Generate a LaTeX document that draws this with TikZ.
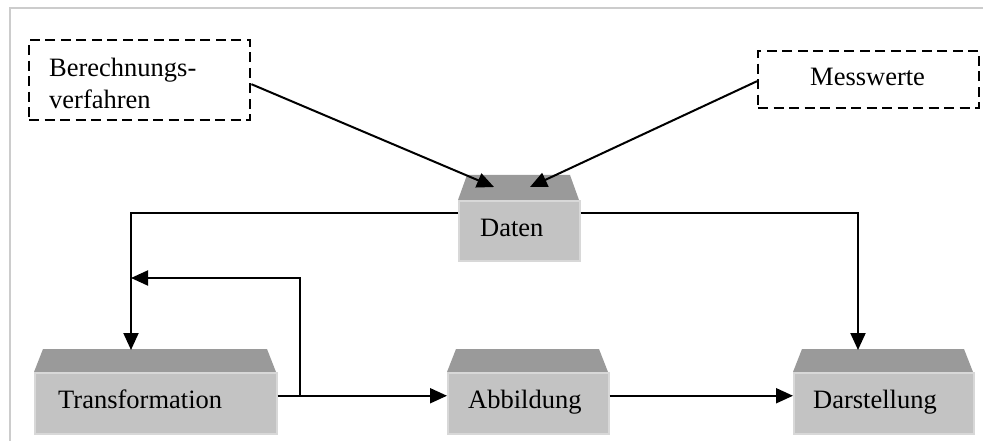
\documentclass[tikz,border=0pt]{standalone}
\usepackage{fontspec}
\setmainfont{Liberation Serif}
\usetikzlibrary{arrows.meta}
\definecolor{topgray}{HTML}{9A9A9A}
\definecolor{frontgray}{HTML}{C3C3C3}
\definecolor{edgegray}{HTML}{D8D8D8}
\definecolor{framegray}{HTML}{CCCCCC}
\tikzset{
  txt/.style={font=\fontsize{26.5}{32}\selectfont, inner sep=0pt},
  dbox/.style={draw, dash pattern=on 10pt off 5.5pt, line width=2.4pt, inner sep=0pt, anchor=north west},
  frontface/.style={fill=frontgray, draw=edgegray, line width=1.5pt, inner sep=0pt, anchor=north west},
  topface/.style={fill=topgray},
  conn/.style={line width=2pt},
  arr/.style={conn, -{Triangle[length=17pt,width=15pt]}},
}
% name, x1, x2, y of top face, y of front top, y of bottom
\newcommand{\bevelbox}[6]{%
  \fill[topface] ({#2+9},#4) -- ({#3-9},#4) -- (#3,#5) -- (#2,#5) -- cycle;
  \node[frontface, minimum width={(#3-#2)*1pt}, minimum height={(#6-#5)*1pt}] (#1) at (#2,#5) {};
}
\begin{document}
\begin{tikzpicture}[x=1pt,y=-1pt]
\useasboundingbox (0,0) rectangle (983,441);
\draw[framegray, line width=1.5pt] (10,441) -- (10,8) -- (983,8);

% dashed source boxes
\node[dbox, minimum width=221pt, minimum height=80pt] (ber) at (28,39) {};
\node[txt, anchor=west, align=left] (bert) at (49,83) {Berechnungs-\\verfahren};
\node[dbox, minimum width=221pt, minimum height=57pt] (mess) at (757,50) {};
\node[txt, anchor=base west] (messt) at (810,86) {Messwerte};

% bevelled boxes
\bevelbox{daten}{458}{579}{175}{200}{260}
\node[txt, anchor=base west] (datent) at (480,236) {Daten};
\bevelbox{trans}{34}{276}{349}{372}{433}
\node[txt, anchor=base west] (transt) at (58,408) {Transformation};
\bevelbox{abb}{447}{608}{349}{372}{433}
\node[txt, anchor=base west] (abbt) at (468,408) {Abbildung};
\bevelbox{dar}{793}{973}{349}{372}{433}
\node[txt, anchor=base west] (dart) at (813,408) {Darstellung};

% connector end points
\coordinate (dIn1) at (494,187);
\coordinate (dIn2) at (530,187);
\coordinate (tIn) at (131,350);
\coordinate (dsIn) at (858,350);
\coordinate (br) at (300,395);
\coordinate (back) at (131,278);

\draw[arr] ([yshift=-4pt]ber.east) -- (dIn1);
\draw[arr] ([yshift=-1.5pt]mess.west) -- (dIn2);
\draw[arr] ([yshift=18pt]daten.west) -| (tIn);
\draw[arr] ([yshift=18pt]daten.east) -| (dsIn);
\draw[arr] ([yshift=7.5pt]trans.east) -- ([yshift=7.5pt]abb.west);
\draw[arr] (br) |- (back);
\draw[arr] ([yshift=7.5pt]abb.east) -- ([yshift=7.5pt]dar.west);
\end{tikzpicture}
\end{document}
